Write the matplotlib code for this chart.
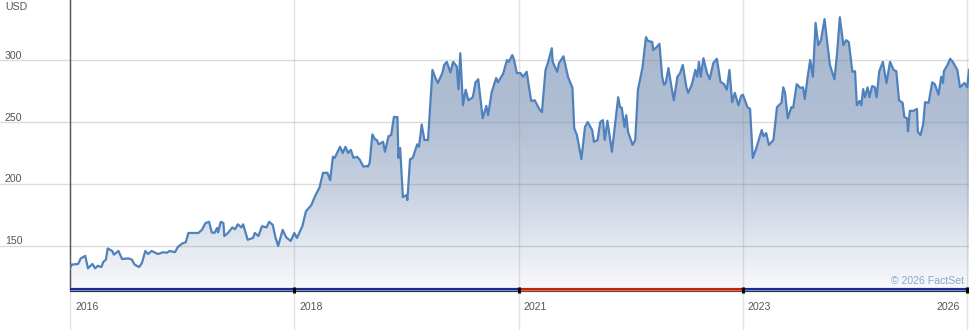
import matplotlib
matplotlib.use('Agg')
import matplotlib.pyplot as plt
import matplotlib.transforms as mtransforms
from matplotlib.colors import LinearSegmentedColormap
from matplotlib.patches import Polygon
import numpy as np

# Kursverlauf (Dezimaljahre, USD)
years = [
    2016.10, 2016.12, 2016.19, 2016.22, 2016.27, 2016.30, 2016.35, 2016.38, 2016.41, 2016.45,
    2016.47, 2016.50, 2016.52, 2016.57, 2016.59, 2016.64, 2016.68, 2016.75, 2016.79, 2016.82,
    2016.87, 2016.90, 2016.94, 2016.97, 2017.01, 2017.08, 2017.14, 2017.18, 2017.21, 2017.27,
    2017.30, 2017.35, 2017.39, 2017.42, 2017.47, 2017.53, 2017.57, 2017.61, 2017.65, 2017.68,
    2017.71, 2017.74, 2017.75, 2017.78, 2017.81, 2017.82, 2017.86, 2017.91, 2017.94, 2017.97,
    2018.01, 2018.03, 2018.08, 2018.14, 2018.16, 2018.20, 2018.24, 2018.29, 2018.32, 2018.36,
    2018.39, 2018.42, 2018.47, 2018.51, 2018.56, 2018.60, 2018.63, 2018.69, 2018.73, 2018.79,
    2018.83, 2018.88, 2018.92, 2018.97, 2019.00, 2019.03, 2019.05, 2019.11, 2019.14, 2019.17,
    2019.20, 2019.23, 2019.26, 2019.30, 2019.33, 2019.37, 2019.41, 2019.42, 2019.44, 2019.47,
    2019.50, 2019.52, 2019.54, 2019.59, 2019.61, 2019.65, 2019.68, 2019.71, 2019.75, 2019.76,
    2019.78, 2019.81, 2019.85, 2019.86, 2019.89, 2019.92, 2019.97, 2019.99, 2020.02, 2020.05,
    2020.09, 2020.14, 2020.17, 2020.20, 2020.25, 2020.27, 2020.30, 2020.34, 2020.37, 2020.41,
    2020.43, 2020.45, 2020.48, 2020.51, 2020.54, 2020.59, 2020.62, 2020.65, 2020.70, 2020.74,
    2020.76, 2020.80, 2020.85, 2020.87, 2020.92, 2020.93, 2020.97, 2020.99, 2021.03, 2021.05,
    2021.08, 2021.12, 2021.15, 2021.19, 2021.24, 2021.28, 2021.33, 2021.36, 2021.40, 2021.43,
    2021.47, 2021.48, 2021.53, 2021.55, 2021.60, 2021.65, 2021.70, 2021.72, 2021.75, 2021.80,
    2021.84, 2021.87, 2021.92, 2021.94, 2021.98, 2022.01, 2022.04, 2022.06, 2022.09, 2022.14,
    2022.18, 2022.21, 2022.23, 2022.25, 2022.28, 2022.30, 2022.32, 2022.37, 2022.40, 2022.43,
    2022.48, 2022.52, 2022.54, 2022.59, 2022.60, 2022.64, 2022.67, 2022.70, 2022.72, 2022.74,
    2022.77, 2022.80, 2022.83, 2022.87, 2022.90, 2022.93, 2022.97, 2022.99, 2023.03, 2023.07,
    2023.09, 2023.11, 2023.13, 2023.16, 2023.20, 2023.23, 2023.27, 2023.31, 2023.35, 2023.39,
    2023.42, 2023.45, 2023.48, 2023.51, 2023.55, 2023.58, 2023.60, 2023.65, 2023.68, 2023.71,
    2023.75, 2023.81, 2023.83, 2023.86, 2023.89, 2023.94, 2023.98, 2024.03, 2024.05, 2024.07,
    2024.10, 2024.14, 2024.16, 2024.20, 2024.24, 2024.27, 2024.29, 2024.32, 2024.35, 2024.38,
    2024.41, 2024.44, 2024.47, 2024.51, 2024.54, 2024.57, 2024.62, 2024.65, 2024.68, 2024.72,
    2024.75, 2024.78, 2024.82, 2024.85, 2024.87, 2024.90, 2024.92, 2024.94, 2024.96, 2024.99,
    2025.01, 2025.04, 2025.07, 2025.09, 2025.12, 2025.16, 2025.20, 2025.24, 2025.28, 2025.31,
    2025.34, 2025.38, 2025.40, 2025.43, 2025.44, 2025.46, 2025.50, 2025.54, 2025.55, 2025.58,
    2025.61, 2025.63, 2025.67, 2025.71, 2025.74, 2025.78, 2025.81, 2025.83, 2025.84, 2025.88,
    2025.91, 2025.94, 2025.99, 2026.02, 2026.07, 2026.10, 2026.12,
]
prices = [
    132, 135, 135.5, 140, 142, 132, 135.5, 132, 134, 133,
    137, 139, 148, 146, 143, 146, 139.5, 140, 139, 135,
    133, 136, 146, 143.5, 146, 143.5, 145, 144.5, 146, 145,
    149, 152, 153, 160.5, 160.5, 160.5, 163, 168.5, 169.5, 161,
    160.5, 164.5, 161, 169.5, 168.5, 158, 160.5, 165, 163.5, 167.5,
    165, 167.5, 155, 156.5, 160.5, 158, 166, 165, 169.5, 167,
    157, 150, 163, 157, 154, 160.5, 156.5, 166, 178, 183,
    190, 197, 209, 209, 203, 222, 221, 230, 225, 230,
    225, 227.5, 221, 222, 219.5, 214, 214.5, 214, 217, 240,
    236, 235.5, 232, 234, 226, 238.5, 239.5, 254, 254, 221,
    229, 189.5, 191, 187, 220, 221, 232, 230, 248, 235.5,
    235.5, 292, 286, 281.5, 289.5, 296, 298.5, 290, 298.5, 295,
    276.5, 305.5, 263.5, 276, 267.5, 270, 282, 284.5, 253, 263,
    255.5, 274, 285.5, 282, 288, 289.5, 300, 298.5, 304, 300,
    289.5, 289.5, 286.5, 290.5, 267, 267.5, 260.5, 258, 292, 298.5,
    309.5, 298.5, 290.5, 297.5, 303, 286.5, 277.5, 245, 239.5, 220,
    246, 250, 243.5, 234, 235.5, 250, 251.5, 235.5, 251, 226,
    251.5, 270, 262, 261.5, 246, 255.5, 242, 231.5, 235.5, 276,
    293.5, 318.5, 315.5, 314.5, 308, 310.5, 313, 286.5, 280, 281.5,
    293.5, 280, 267.5, 286.5, 289.5, 296, 278, 273.5, 280, 292,
    286.5, 298.5, 286.5, 301.5, 289.5, 284.5, 297.5, 301, 282.5, 280.5,
    276, 292, 266, 273.5, 263.5, 271, 272, 262, 260.5, 221,
    229, 243.5, 238.5, 241, 231.5, 235.5, 262, 265.5, 278, 273.5,
    253, 262, 261.5, 280.5, 277.5, 278, 268.5, 285.5, 300, 286.5,
    330, 312, 316, 333, 314, 296, 284.5, 305.5, 334.5, 312,
    316, 314.5, 290.5, 291, 263.5, 267, 263.5, 276.5, 270, 278,
    270, 279, 278, 270, 291, 298.5, 281.5, 298.5, 292, 291,
    267.5, 265.5, 254, 253, 242.5, 259, 259, 260.5, 242, 239.5,
    248.5, 266, 265.5, 282, 280.5, 272, 286.5, 281.5, 291, 296,
    301, 298.5, 292, 278, 281.5, 278, 292,
]

y_ticks = [150, 200, 250, 300]
x_ticks = [2016.10, 2018.60, 2021.10, 2023.60, 2026.10]
x_tick_labels = ['2016', '2018', '2021', '2023', '2026']
# Farbsegmente der Grundlinie
band_edges = [2016.10, 2021.10, 2023.60, 2026.12]
band_colors = ['#1c2a9c', '#c0201c', '#1c2a9c']

plt.rcParams['font.family'] = ['Liberation Sans', 'DejaVu Sans']

W, H = 970, 330
fig = plt.figure(figsize=(W / 100, H / 100), dpi=100)
ax = fig.add_axes([70 / W, 40 / H, 899 / W, 290 / H])
x0, x1 = 2016.10, 2026.12
y0, y1 = 114.5, 348.4

# Verlauf unter der Kurve
cmap = LinearSegmentedColormap.from_list('fs', [
    (0.0, '#f8f9fb'), (0.15, '#e4e9f0'), (0.35, '#c6d0e0'),
    (0.6, '#b0bed4'), (1.0, '#a8b7cf')])
grad = np.linspace(1, 0, 256).reshape(-1, 1)
im = ax.imshow(grad, extent=[x0, x1, y0, y1], aspect='auto', cmap=cmap,
               origin='upper', zorder=1)
verts = [(years[0], y0)] + list(zip(years, prices)) + [(years[-1], y0)]
poly = Polygon(verts, closed=True, facecolor='none', edgecolor='none')
ax.add_patch(poly)
im.set_clip_path(poly)

ax.plot(years, prices, color='#4f81bd', lw=1.6, zorder=4, solid_joinstyle='round')

ax.set_xlim(x0, x1)
ax.set_ylim(y0, y1)
ax.set_xticks([])
ax.set_yticks([])
for s in ['top', 'right', 'bottom']:
    ax.spines[s].set_visible(False)
ax.spines['left'].set_color('#555555')
ax.spines['left'].set_linewidth(1)

# Gitternetz (ragt aus der Zeichenfläche heraus)
for v in y_ticks:
    ax.axhline(v, xmin=-70 / 899, xmax=1, color='#808080', alpha=0.28, lw=1,
               zorder=2, clip_on=False)
for x in x_ticks:
    ax.axvline(x, ymin=-40 / 290, ymax=1, color='#808080', alpha=0.22, lw=1,
               zorder=2, clip_on=False)

# Beschriftungen
ytrans = mtransforms.blended_transform_factory(fig.transFigure, ax.transData)
for v in y_ticks:
    ax.annotate(str(v), xy=(5 / W, v), xycoords=ytrans, xytext=(0, 1.5),
                textcoords='offset pixels', ha='left', va='baseline',
                fontsize=7.6, color='#555555')
xtrans = mtransforms.blended_transform_factory(ax.transData, fig.transFigure)
for i, (x, lab) in enumerate(zip(x_ticks, x_tick_labels)):
    last = i == len(x_ticks) - 1
    ax.annotate(lab, xy=(x, 1 - 310.5 / H), xycoords=xtrans,
                xytext=(-7 if last else 5, 0), textcoords='offset pixels',
                ha='right' if last else 'left', va='baseline',
                fontsize=7.6, color='#555555')

fig.text(5 / W, 1 - 9.5 / H, 'USD', ha='left', va='baseline', fontsize=7.6, color='#555555')
fig.text(964 / W, 1 - 284 / H, '\u00a9 2026 FactSet', ha='right', va='baseline',
         fontsize=7.6, color='#8aa6cf')

# Grundlinie mit Farbsegmenten und Markierungen
for a, b, c in zip(band_edges[:-1], band_edges[1:], band_colors):
    ax.plot([a, b], [y0, y0], color=c, lw=3, zorder=5, clip_on=False, solid_capstyle='butt')
    ax.plot([a, b], [y0, y0], color='#8c9a5a', lw=0.7, zorder=6, clip_on=False, solid_capstyle='butt')
ax.plot(x_ticks[1:], [y0] * (len(x_ticks) - 1), ls='none', marker='|', color='black',
        markersize=5, mew=2.2, zorder=7, clip_on=False)

fig.savefig('out.png', dpi=100)
